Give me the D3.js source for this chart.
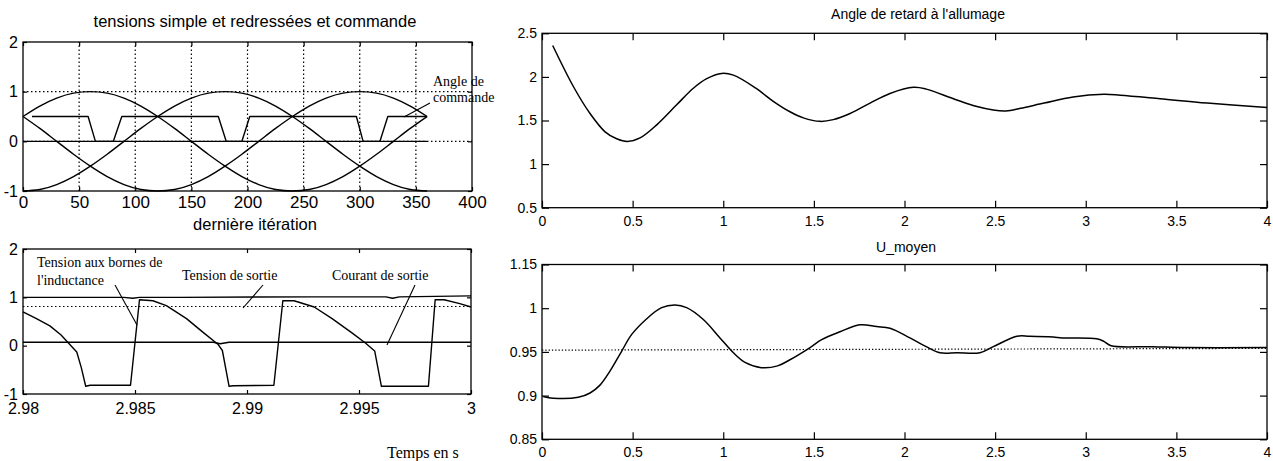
<!DOCTYPE html>
<html><head><meta charset="utf-8">
<script src="https://cdn.jsdelivr.net/npm/d3@7"></script>
<style>
body{margin:0;background:#fff}
svg{display:block}
</style></head><body>
<svg id="c" width="1273" height="461"></svg>
<script>
// ---------- Panel 1 : tensions simple et redressées et commande ----------
const degX   = [0,15,30,45,60,75,90,105,120,135,150,165,180,195,210,225,240,255,270,285,300,315,330,345,360];
const phaseA = [0.5,0.71,0.87,0.97,1,0.97,0.87,0.71,0.5,0.26,0,-0.26,-0.5,-0.71,-0.87,-0.97,-1,-0.97,-0.87,-0.71,-0.5,-0.26,0,0.26,0.5];
const phaseB = [0.5,0.26,0,-0.26,-0.5,-0.71,-0.87,-0.97,-1,-0.97,-0.87,-0.71,-0.5,-0.26,0,0.26,0.5,0.71,0.87,0.97,1,0.97,0.87,0.71,0.5];
const phaseC = [-1,-0.97,-0.87,-0.71,-0.5,-0.26,0,0.26,0.5,0.71,0.87,0.97,1,0.97,0.87,0.71,0.5,0.26,0,-0.26,-0.5,-0.71,-0.87,-0.97,-1];
const cmdX   = [8,58,64.5,80.5,88,174,181,195,202,297,303,318,325,360];
const cmdY   = [0.5,0.5,0,0,0.5,0.5,0,0,0.5,0.5,0,0,0.5,0.5];
const zeroX  = [0,360];
const zeroY  = [0,0];
const p1XTicks = [0,50,100,150,200,250,300,350,400];
const p1YTicks = [-1,0,1,2];
const p1Grid  = [50,100,150,200,250,300,350];
const p1GridY = [0,1];

// ---------- Panel 2 : dernière itération ----------
const inductT = [2.98,2.9806,2.9812,2.9817,2.9821,2.9824,2.9826,2.9828,2.9830,2.9848,2.9852,2.9858,2.9864,2.9873,2.9880,2.9887,2.9889,2.9892,2.9894,2.9912,2.9916,2.9921,2.9930,2.9938,2.9947,2.9953,2.9957,2.9960,2.9962,2.9981,2.9984,2.9988,2.9995,3.0];
const inductV = [0.70,0.56,0.41,0.22,0.02,-0.13,-0.45,-0.84,-0.82,-0.82,0.95,0.93,0.83,0.56,0.29,0.03,-0.10,-0.84,-0.83,-0.82,0.93,0.93,0.80,0.56,0.26,0.05,-0.11,-0.84,-0.84,-0.84,0.95,0.95,0.87,0.80];
const hautT   = [2.98,2.9845,2.9849,2.9852,2.9870,2.9930,2.9962,2.9965,2.9968,3.0];
const hautV   = [1.0,1.0,0.98,1.0,1.0,1.01,1.01,0.98,1.01,1.03];
const sortieT = [2.98,3.0];
const sortieV = [0.81,0.81];
const courantT = [2.98,2.9885,2.9888,2.9892,3.0];
const courantV = [0.07,0.07,0.04,0.07,0.07];
const p2XTicks = [2.98,2.985,2.99,2.995,3];
const p2XLabels = ["2.98","2.985","2.99","2.995","3"];
const p2YTicks = [-1,0,1,2];

// ---------- Panel 3 : Angle de retard à l'allumage ----------
const angleT = [0.059,0.173,0.265,0.348,0.412,0.471,0.541,0.633,0.743,0.835,0.909,0.991,1.056,1.18,1.276,1.368,1.442,1.534,1.607,1.70,1.81,1.92,2.05,2.12,2.27,2.40,2.49,2.56,2.64,2.77,2.93,3.10,3.19,3.41,3.67,4.0];
const angleV = [2.36,1.89,1.58,1.37,1.29,1.26,1.30,1.45,1.68,1.87,1.98,2.04,2.02,1.87,1.72,1.60,1.53,1.49,1.51,1.58,1.70,1.81,1.88,1.86,1.75,1.66,1.62,1.61,1.64,1.70,1.77,1.80,1.79,1.75,1.70,1.65];
const p3XTicks = [0,0.5,1,1.5,2,2.5,3,3.5,4];
const p3YTicks = [0.5,1,1.5,2,2.5];

// ---------- Panel 4 : U_moyen ----------
const umT = [0.007,0.062,0.20,0.265,0.32,0.375,0.44,0.495,0.578,0.66,0.734,0.798,0.89,0.982,1.056,1.12,1.21,1.30,1.368,1.479,1.543,1.644,1.754,1.846,1.92,2.03,2.12,2.196,2.29,2.416,2.49,2.62,2.69,2.82,2.87,3.06,3.10,3.14,3.37,3.56,4.0];
const umV = [0.899,0.897,0.898,0.903,0.912,0.928,0.951,0.970,0.988,1.0006,1.0036,1.0006,0.987,0.966,0.949,0.938,0.932,0.934,0.941,0.955,0.964,0.973,0.981,0.979,0.977,0.966,0.956,0.949,0.949,0.949,0.956,0.968,0.968,0.967,0.966,0.965,0.962,0.957,0.956,0.955,0.955];
const urefT = [0,4];
const urefV = [0.952,0.954];
const p4XTicks = [0,0.5,1,1.5,2,2.5,3,3.5,4];
const p4YTicks = [0.85,0.9,0.95,1,1.05];
const p4YLabels = ["0.85","0.9","0.95","1","1.15"];

// ---------- drawing ----------
const SANS = "'Liberation Sans', Arial, Helvetica, sans-serif";
const SERIF = "'Liberation Serif', 'Times New Roman', serif";
const svg = d3.select("#c");
svg.append("rect").attr("width",1273).attr("height",461).attr("fill","#fff");
const fmtNum = d => d3.format("~g")(d).replace("\u2212","-");

function panel(o){
  const x = d3.scaleLinear().domain(o.xd).range([o.l,o.r]);
  const y = d3.scaleLinear().domain(o.yd).range([o.b,o.t]);
  const g = svg.append("g");
  const tk = o.tick;
  const fmtX = o.xLabels ? (d,i)=>o.xLabels[i] : fmtNum;
  const fmtY = o.yLabels ? (d,i)=>o.yLabels[i] : fmtNum;
  const axB = g.append("g").attr("transform",`translate(0,${o.b})`)
    .call(d3.axisBottom(x).tickValues(o.xt).tickFormat(fmtX).tickSizeInner(-tk).tickSizeOuter(0).tickPadding(o.xPad));
  const axL = g.append("g").attr("transform",`translate(${o.l},0)`)
    .call(d3.axisLeft(y).tickValues(o.yt).tickFormat(fmtY).tickSizeInner(-tk).tickSizeOuter(0).tickPadding(o.yPad));
  const axT = g.append("g").attr("transform",`translate(0,${o.t})`)
    .call(d3.axisTop(x).tickValues(o.xt).tickFormat("").tickSizeInner(-tk).tickSizeOuter(0));
  const axR = g.append("g").attr("transform",`translate(${o.r},0)`)
    .call(d3.axisRight(y).tickValues(o.yt).tickFormat("").tickSizeInner(-tk).tickSizeOuter(0));
  [axB,axL,axT,axR].forEach(a=>{
    a.select(".domain").remove();
    a.selectAll("line").attr("stroke","#000").attr("stroke-width",1.2);
    a.selectAll("text").attr("font-family",SANS).attr("fill","#000");
  });
  axB.selectAll("text").attr("font-size",o.fsx||o.fs);
  axL.selectAll("text").attr("font-size",o.fs);
  g.append("rect").attr("x",o.l).attr("y",o.t).attr("width",o.r-o.l).attr("height",o.b-o.t)
    .attr("fill","none").attr("stroke","#000").attr("stroke-width",1.3);
  if(o.title) g.append("text").attr("x",o.tx).attr("y",o.ty).attr("text-anchor","middle")
    .attr("font-family",SANS).attr("font-size",o.tfs).attr("fill","#000").text(o.title);
  return {x,y,g};
}
function drawLine(p, xs, ys, dash, w, curve){
  p.g.append("path").datum(d3.zip(xs,ys))
    .attr("d", d3.line().curve(curve||d3.curveLinear).x(d=>p.x(d[0])).y(d=>p.y(d[1])))
    .attr("fill","none").attr("stroke","#000").attr("stroke-width",w||1.4)
    .attr("stroke-dasharray", dash||null).attr("stroke-linejoin","round");
}
function label(lines, x, y, lh, fs){
  const t = svg.append("text").attr("font-family",SERIF).attr("font-size",fs||13).attr("fill","#000");
  lines.forEach((s,i)=>t.append("tspan").attr("x",x).attr("y",y+i*lh).text(s));
}
function leader(x1,y1,x2,y2){
  svg.append("line").attr("x1",x1).attr("y1",y1).attr("x2",x2).attr("y2",y2)
    .attr("stroke","#000").attr("stroke-width",1.1);
}

// Panel 1
const p1 = panel({xd:[0,400], yd:[-1,2], l:23, r:472, t:42, b:191, xt:p1XTicks, yt:p1YTicks,
  tick:4, xPad:5, yPad:5, fs:16, fsx:17, title:"tensions simple et redressées et commande", tx:255, ty:27, tfs:16.5});
p1Grid.forEach(v=>p1.g.append("line").attr("x1",p1.x(v)).attr("x2",p1.x(v)).attr("y1",p1.y(-1)).attr("y2",p1.y(2))
  .attr("stroke","#000").attr("stroke-width",1.2).attr("stroke-dasharray","1.5,2.5"));
p1GridY.forEach(v=>p1.g.append("line").attr("x1",p1.x(0)).attr("x2",p1.x(400)).attr("y1",p1.y(v)).attr("y2",p1.y(v))
  .attr("stroke","#000").attr("stroke-width",1.2).attr("stroke-dasharray","1.5,2.5"));
drawLine(p1, degX, phaseA, null, 1.4, d3.curveMonotoneX);
drawLine(p1, degX, phaseB, null, 1.4, d3.curveMonotoneX);
drawLine(p1, degX, phaseC, null, 1.4, d3.curveMonotoneX);
drawLine(p1, zeroX, zeroY);
drawLine(p1, cmdX, cmdY);
label(["Angle de","commande"], 433, 86, 16, 14);
leader(430,103,404,117);

// Panel 2
const p2 = panel({xd:[2.98,3], yd:[-1,2], l:23, r:471, t:249, b:394, xt:p2XTicks, xLabels:p2XLabels, yt:p2YTicks,
  tick:4, xPad:9, yPad:5, fs:16, fsx:16, title:"dernière itération", tx:255, ty:230, tfs:16.5});
drawLine(p2, hautT, hautV);
drawLine(p2, sortieT, sortieV, "1.5,2.5", 1.2);
drawLine(p2, courantT, courantV);
drawLine(p2, inductT, inductV);
label(["Tension aux bornes de","l'inductance"], 37, 267, 18, 14);
leader(115,285,137,325);
label(["Tension de sortie"], 182, 280, 18, 14);
leader(263,285,243,308);
label(["Courant de sortie"], 332, 280, 18, 14);
leader(415,285,387,345);
label(["Temps en s"], 387, 458, 18, 16);

// Panel 3
const p3 = panel({xd:[0,4], yd:[0.5,2.5], l:542, r:1267, t:33.3, b:207.7, xt:p3XTicks, yt:p3YTicks,
  tick:7, xPad:8, yPad:5, fs:14, title:"Angle de retard à l'allumage", tx:918, ty:19, tfs:14});
drawLine(p3, angleT, angleV, null, 1.5, d3.curveCatmullRom);

// Panel 4
const p4 = panel({xd:[0,4], yd:[0.85,1.05], l:542, r:1267, t:264.5, b:439.3, xt:p4XTicks, yt:p4YTicks, yLabels:p4YLabels,
  tick:7, xPad:8, yPad:5, fs:14, title:"U_moyen", tx:906, ty:252, tfs:14});
drawLine(p4, urefT, urefV, "1.3,2", 1.2);
drawLine(p4, umT, umV, null, 1.5, d3.curveCatmullRom);
</script>
</body></html>
